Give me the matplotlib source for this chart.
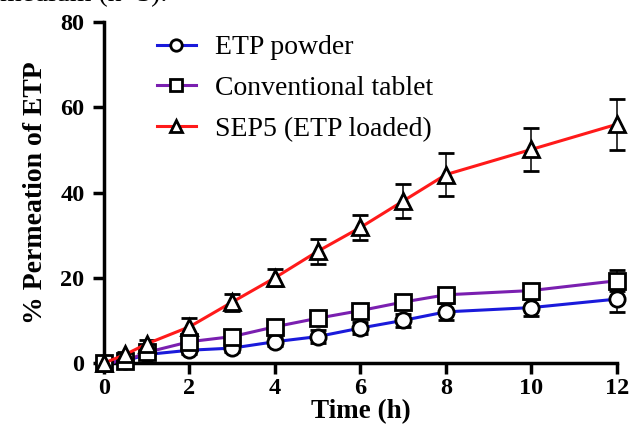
import matplotlib
matplotlib.use('Agg')
import matplotlib.pyplot as plt

# sampling times (h)
time_h = [0, 0.5, 1, 2, 3, 4, 5, 6, 7, 8, 10, 12]

# % permeation of ETP, mean and SD
etp_powder = [0, 0.5, 2, 3, 3.5, 5, 6.2, 8.2, 10, 12, 13, 15]
etp_powder_sd = [0, 0.3, 0.5, 0.8, 1, 1, 1.5, 1.5, 1.5, 2, 2, 3]
conv_tablet = [0, 0.5, 2.5, 5, 6.2, 8.5, 10.5, 12.3, 14.3, 16, 17, 19.3]
conv_tablet_sd = [0, 0.3, 0.5, 1, 1, 1, 1, 1.5, 1.5, 1.5, 1.5, 2.5]
sep5 = [0, 2, 4.5, 8.5, 14.3, 20, 26.2, 31.8, 38, 44.2, 50.1, 56]
sep5_sd = [0, 0.5, 1, 2, 2, 2, 3, 3, 4, 5, 5, 6]

series = [
    ('ETP powder', etp_powder, etp_powder_sd, 'o', '#1a1adb', 11),
    ('Conventional tablet', conv_tablet, conv_tablet_sd, 's', '#7a1fb0', 11),
    ('SEP5 (ETP loaded)', sep5, sep5_sd, '^', '#ff1a1a', 12),
]

plt.rcParams['font.family'] = ['Liberation Serif', 'DejaVu Serif']

fig = plt.figure(figsize=(6.32, 4.38), dpi=100)
ax = fig.add_axes([0.1646, 0.1712, 0.8114, 0.7786])

handles = []
for label, y, err, marker, color, size in series:
    cont = ax.errorbar(time_h, y, yerr=err, color=color, lw=2.2,
                       marker=marker, ms=size, mfc='white', mec='black', mew=2,
                       ecolor='black', elinewidth=1.1, capsize=5.5, capthick=1.1,
                       label=label, clip_on=False, zorder=3)
    handles.append(cont[0])  # line only, no error bars in the legend

ax.set_xlim(0, 12)
ax.set_ylim(0, 80)
ax.set_xticks([0, 2, 4, 6, 8, 10, 12])
ax.set_yticks([0, 20, 40, 60, 80])

for side in ['top', 'right']:
    ax.spines[side].set_visible(False)
for side in ['left', 'bottom']:
    ax.spines[side].set_linewidth(2.5)
ax.tick_params(width=2.5, length=8, labelsize=17.5)
ax.tick_params(axis='y', pad=6)
ax.tick_params(axis='x', pad=3)
for lbl in ax.get_xticklabels() + ax.get_yticklabels():
    lbl.set_fontweight('bold')

ax.set_xlabel('Time (h)', fontsize=19.5, fontweight='bold', labelpad=0)
ax.set_ylabel('% Permeation of ETP', fontsize=20, fontweight='bold', labelpad=9)

leg = ax.legend(handles, [s[0] for s in series],
                loc='upper left', bbox_to_anchor=(0.054, 1.035), frameon=False,
                fontsize=20, handlelength=1.4, handletextpad=0.7,
                labelspacing=0.55, markerscale=0.75)

# caption text cut off at the top of the crop
fig.text(0.0, 1.012, 'medium (n=3).', fontsize=20, va='center', ha='left')

fig.savefig('out.png', dpi=100)
